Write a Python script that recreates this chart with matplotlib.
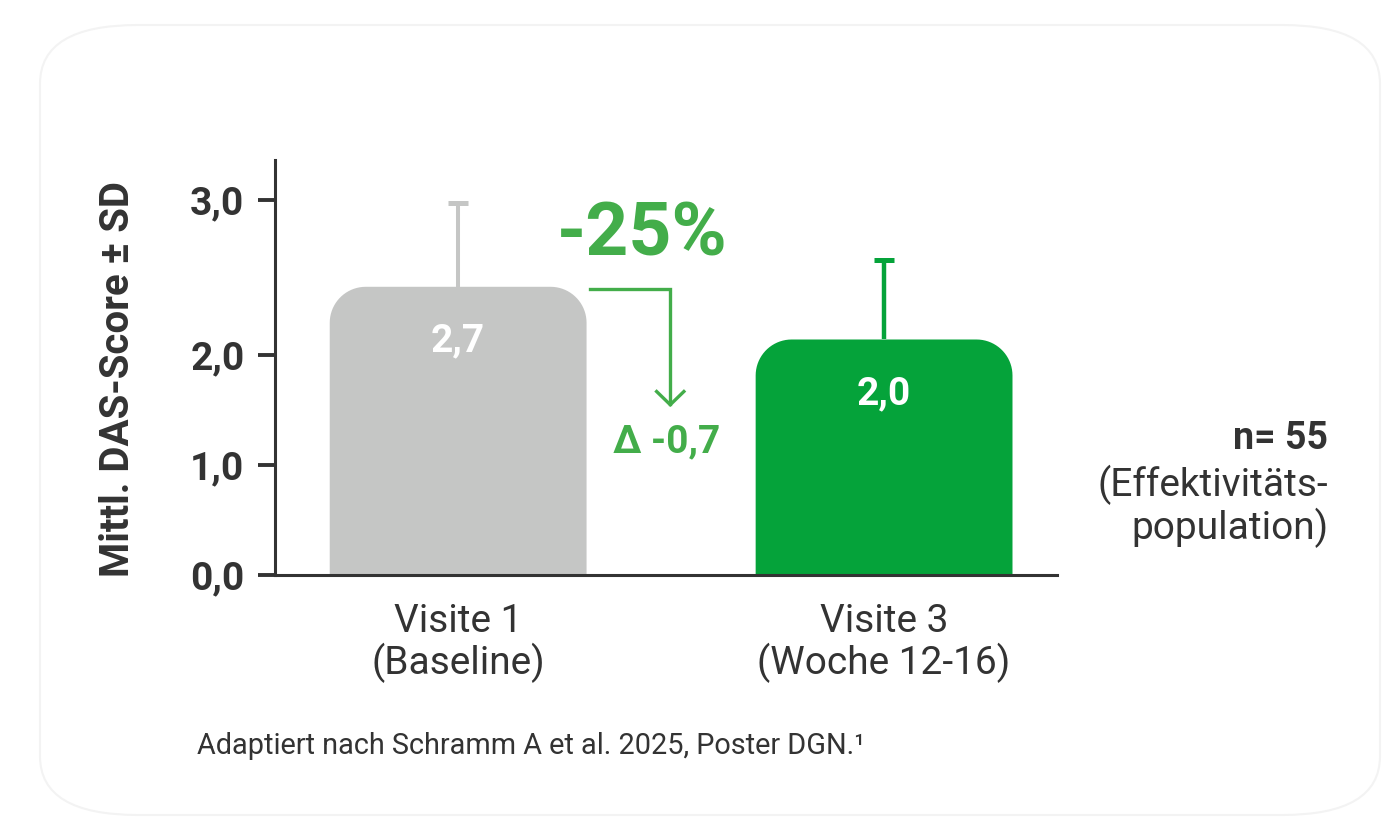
import numpy as np
import matplotlib.pyplot as plt
from matplotlib.path import Path
from matplotlib.patches import PathPatch, FancyBboxPatch
from matplotlib.transforms import IdentityTransform

plt.rcParams['font.family'] = ['Roboto', 'DejaVu Sans']

# data (bar heights, labels as printed)
categories = ['Visite 1\n(Baseline)', 'Visite 3\n(Woche 12-16)']
means = [2.44, 2.10]
sd = [0.54, 0.51]
value_labels = ['2,7', '2,0']
y_ticks = [0, 1, 2, 3]
y_tick_labels = ['0,0', '1,0', '2,0', '3,0']

bar_colors = ['#c5c6c5', '#05a33a']
accent = '#43ad4a'
dark = '#333333'

# the original axis is stretched above 2,0
k = 155 / 110


def forward(y):
    y = np.asarray(y, dtype=float)
    return np.where(y <= 2, y, 2 + (y - 2) * k)


def inverse(t):
    t = np.asarray(t, dtype=float)
    return np.where(t <= 2, t, 2 + (t - 2) / k)


fig = plt.figure(figsize=(14, 8.4), dpi=100)

# faint rounded card behind everything
card = FancyBboxPatch((40 / 1400, 25 / 840), 1340 / 1400, 790 / 840,
                      boxstyle='round,pad=0,rounding_size=0.07',
                      transform=fig.transFigure, facecolor='white',
                      edgecolor='#f3f3f3', linewidth=1.5, zorder=-5)
fig.patches.append(card)

ax = fig.add_axes([275 / 1400, 1 - 575 / 840, (1057 - 275) / 1400, (575 - 160) / 840])
ax.set_facecolor('none')
ax.set_yscale('function', functions=(forward, inverse))
ax.set_xlim(-0.43, 1.406)
ax.set_ylim(0, 3.258)

x = np.arange(len(categories))
bars = ax.bar(x, means, width=0.603, color=bar_colors)

# error bars (upper only)
for xi, m, s, c, lw in zip(x, means, sd, bar_colors, [2.9, 3.2]):
    eb = ax.errorbar(xi, m, yerr=[[0], [s]], fmt='none', ecolor=c, elinewidth=lw,
                     capsize=7.5, capthick=3.6, zorder=1)
    for cap in eb[1]:
        if np.allclose(cap.get_ydata(), m):
            cap.set_visible(False)

# replace plain bars with rounded-top bars
r = 36
for b in bars:
    x0, y0 = b.get_x(), 0
    x1, y1 = b.get_x() + b.get_width(), b.get_height()
    (px0, py0), (px1, py1) = ax.transData.transform([(x0, y0), (x1, y1)])
    t = np.linspace(0, np.pi / 2, 20)
    left = np.column_stack([px0 + r - r * np.cos(t), py1 - r + r * np.sin(t)])
    right = np.column_stack([px1 - r + r * np.sin(t), py1 - r + r * np.cos(t)])
    verts = np.vstack([[px0, py0], left, right, [px1, py0], [px0, py0]])
    patch = PathPatch(Path(verts), facecolor=b.get_facecolor(), edgecolor='none',
                      transform=IdentityTransform(), zorder=2)
    ax.add_artist(patch)
    b.set_visible(False)

for xi, m, lab in zip(x, means, value_labels):
    ax.annotate(lab, (xi, m), xytext=(0, -39), textcoords='offset points',
                ha='center', va='center', color='white', fontsize=28,
                fontweight='bold', zorder=5)

# change annotation
ax.text(0.432, 2.774, '-25%', ha='center', va='center', color=accent,
        fontsize=54, fontweight='bold')
ax.plot([0.31, 0.498, 0.498], [2.426, 2.426, 1.55], color=accent, lw=2.4,
        clip_on=False, solid_joinstyle='miter')
ax.plot([0.466, 0.498, 0.530], [1.668, 1.548, 1.668], color=accent, lw=2.4,
        clip_on=False, solid_joinstyle='miter')
ax.text(0.49, 1.209, 'Δ -0,7', ha='center', va='center', color=accent,
        fontsize=28, fontweight='bold')

# axes styling
for side in ['top', 'right']:
    ax.spines[side].set_visible(False)
for side in ['left', 'bottom']:
    ax.spines[side].set_color(dark)
    ax.spines[side].set_linewidth(2.2)

ax.set_yticks(y_ticks, labels=y_tick_labels)
ax.tick_params(axis='y', length=12, width=2.8, color=dark, pad=10,
               labelsize=28, labelcolor=dark)
for lab in ax.get_yticklabels():
    lab.set_fontweight('bold')
ax.set_xticks(x, labels=categories)
ax.tick_params(axis='x', length=0, pad=20, labelsize=28, labelcolor=dark)
for lab in ax.get_xticklabels():
    lab.set_linespacing(1.1)

fig.text(118 / 1400, 1 - 379 / 840, 'Mittl. DAS-Score ± SD', rotation=90,
         ha='center', va='center', fontsize=29, fontweight='bold', color=dark)

fig.text(1328 / 1400, 1 - 438 / 840, 'n= 55', ha='right', va='center',
         fontsize=27, fontweight='bold', color=dark)
fig.text(1328 / 1400, 1 - 485 / 840, '(Effektivitäts-', ha='right', va='center',
         fontsize=28, color=dark)
fig.text(1328 / 1400, 1 - 528 / 840, 'population)', ha='right', va='center',
         fontsize=28, color=dark)

fig.text(197 / 1400, 1 - 746 / 840, 'Adaptiert nach Schramm A et al. 2025, Poster DGN.¹',
         ha='left', va='center', fontsize=20.8, color=dark)

fig.savefig('out.png', dpi=100, facecolor='white')
